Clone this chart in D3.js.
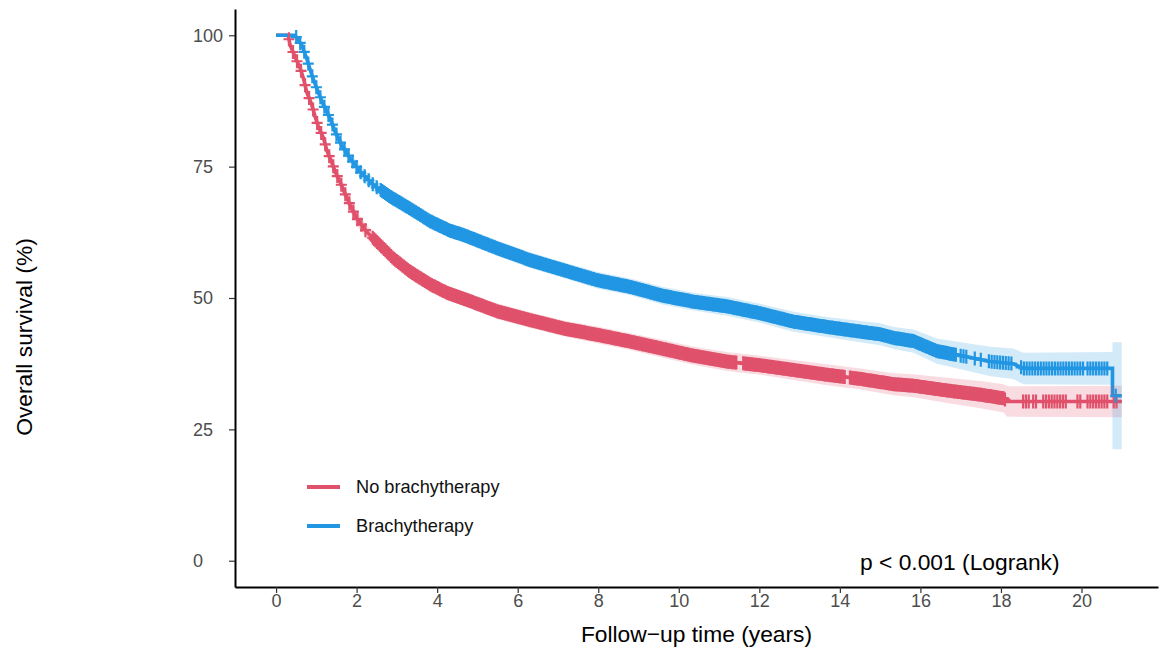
<!DOCTYPE html>
<html>
<head>
<meta charset="utf-8">
<script src="https://cdn.jsdelivr.net/npm/d3@7"></script>
<style>
  body { margin: 0; background: #fff; }
  svg { font-family: "Liberation Sans", Arial, sans-serif; display: block; }
</style>
</head>
<body>
<svg id="km"></svg>
<script>

// group labels and colours
var groupNames = ["No brachytherapy", "Brachytherapy"];
var groupColors = ["#E0516B", "#2196E3"];

// No brachytherapy: time (years), survival (%), CI half width (%)
var noBrachyTime = [0, 0.3, 0.35, 0.47, 0.6, 0.68, 0.76, 0.89, 0.97, 1.05, 1.18, 1.26, 1.38, 1.47, 1.59, 1.71, 1.84, 2.0, 2.25, 2.58, 2.92, 3.33, 3.83, 4.24, 4.65, 5.48, 6.31, 7.14, 7.97, 8.8, 9.62, 10.37, 11.2, 12.02, 12.85, 13.68, 14.51, 15.34, 15.83, 16.66, 17.49, 18.07, 18.15, 21.0];
var noBrachySurv = [100, 100, 98.1, 95.9, 93.7, 91.8, 89.2, 86.7, 84.5, 82.6, 80.4, 78.1, 75.9, 74.0, 72.1, 69.9, 67.7, 65.2, 62.6, 60.1, 57.5, 55.0, 52.6, 51.0, 49.9, 47.5, 45.8, 44.2, 43.0, 41.7, 40.3, 39.0, 37.9, 37.2, 36.3, 35.4, 34.6, 33.6, 33.3, 32.4, 31.6, 30.9, 30.3, 30.3];
var noBrachyCi = [0, 0, 0.6, 0.8, 0.9, 1.0, 1.0, 1.1, 1.1, 1.1, 1.1, 1.2, 1.2, 1.2, 1.2, 1.2, 1.3, 1.3, 1.3, 1.3, 1.3, 1.4, 1.4, 1.4, 1.4, 1.5, 1.5, 1.5, 1.6, 1.6, 1.7, 1.7, 1.8, 1.8, 1.9, 2.0, 2.0, 2.1, 2.2, 2.4, 2.6, 2.7, 2.9, 3.0];

// Brachytherapy
var brachyTime = [0, 0.47, 0.64, 0.76, 0.89, 1.01, 1.18, 1.34, 1.47, 1.63, 1.84, 2.09, 2.42, 2.83, 3.33, 3.83, 4.32, 4.65, 5.48, 6.31, 7.14, 7.97, 8.8, 9.62, 10.37, 11.2, 12.02, 12.85, 13.68, 14.51, 15.0, 15.34, 15.83, 16.41, 17.08, 17.74, 18.3, 18.56, 20.77, 20.77, 21.0];
var brachySurv = [100, 100, 98.1, 95.6, 92.4, 89.9, 86.7, 84.2, 81.6, 79.1, 76.6, 74.0, 71.5, 69.3, 67.0, 64.6, 62.8, 62.0, 59.5, 57.2, 55.3, 53.4, 52.1, 50.4, 49.3, 48.4, 47.1, 45.5, 44.5, 43.6, 43.1, 42.4, 41.8, 39.9, 38.9, 37.9, 37.5, 36.6, 36.6, 31.4, 31.4];
var brachyCi = [0, 0, 0.5, 0.7, 0.8, 0.9, 1.0, 1.0, 1.1, 1.1, 1.1, 1.2, 1.2, 1.3, 1.3, 1.4, 1.4, 1.4, 1.5, 1.5, 1.5, 1.6, 1.6, 1.7, 1.7, 1.8, 1.8, 1.9, 1.9, 2.0, 2.1, 2.1, 2.2, 2.4, 2.6, 2.8, 2.9, 3.0, 3.1, 10.2, 10.2];

// censoring marks: [from, to, spacing] in years (too dense to count one by one)
var noBrachyCensor = [[0.32, 2.3, 0.1], [2.4, 11.45, 0.035], [11.6, 14.15, 0.035], [14.25, 18.1, 0.035],
  [18.55, 18.7, 0.07], [18.8, 18.9, 0.07], [19.05, 19.65, 0.07], [19.9, 20.0, 0.07], [20.15, 20.7, 0.07], [20.8, 20.9, 0.07]];
var brachyCensor = [[0.5, 2.5, 0.1], [2.6, 16.9, 0.035], [17.0, 17.2, 0.07], [17.35, 17.35, 1], [17.5, 17.5, 1],
  [17.7, 18.3, 0.07], [18.5, 20.05, 0.07], [20.15, 20.7, 0.07], [20.85, 20.85, 1]];

var yTicks = [0, 25, 50, 75, 100];
var xTicks = [0, 2, 4, 6, 8, 10, 12, 14, 16, 18, 20];

var config = {
  w: 1160,
  h: 654,
  left: 235,
  right: 1158,
  top: 9,
  bottom: 587
};

var x = d3.scaleLinear().domain([-1.02, 21.9]).range([config.left, config.right]);
var y = d3.scaleLinear().domain([-5, 105]).range([config.bottom, config.top]);

var groups = [
  { time: noBrachyTime, surv: noBrachySurv, ci: noBrachyCi, censor: noBrachyCensor },
  { time: brachyTime, surv: brachySurv, ci: brachyCi, censor: brachyCensor }
];

var svg = d3.select("#km")
  .attr("width", config.w)
  .attr("height", config.h);

function toPoints(g) {
  return g.time.map(function(t, i) {
    return { t: t, s: g.surv[i], c: g.ci[i] };
  });
}

var line = d3.line()
  .x(function(d) { return x(d.t); })
  .y(function(d) { return y(d.s); });

var band = d3.area()
  .x(function(d) { return x(d.t); })
  .y0(function(d) { return y(d.s - d.c); })
  .y1(function(d) { return y(d.s + d.c); });

var plot = svg.append("g").attr("class", "plot");

// curves then ribbons then censor marks
groups.forEach(function(g, i) {
  plot.append("path")
    .datum(toPoints(g))
    .attr("d", line)
    .attr("fill", "none")
    .attr("stroke", groupColors[i])
    .attr("stroke-width", 3.6);
});

groups.forEach(function(g, i) {
  plot.append("path")
    .datum(toPoints(g))
    .attr("d", band)
    .attr("fill", groupColors[i])
    .attr("fill-opacity", 0.2)
    .attr("stroke", "none");
});

groups.forEach(function(g, i) {
  var survAt = d3.scaleLinear().domain(g.time).range(g.surv);
  var marks = [];
  g.censor.forEach(function(r) {
    d3.range(r[0], r[1] + 1e-9, r[2]).forEach(function(t) { marks.push(t); });
  });
  plot.append("g")
    .selectAll("path")
    .data(marks)
    .enter()
    .append("path")
      .attr("d", function(t) {
        var cx = x(t), cy = y(survAt(t));
        return "M" + (cx - 5.5) + "," + cy + "H" + (cx + 5.5) +
               "M" + cx + "," + (cy - 7) + "V" + (cy + 7);
      })
      .attr("stroke", groupColors[i])
      .attr("stroke-width", 2.2)
      .attr("fill", "none");
});

// axes
var yAxis = svg.append("g")
  .attr("transform", "translate(" + config.left + ",0)")
  .call(d3.axisLeft(y).tickValues(yTicks).tickSize(6).tickSizeOuter(0));

var xAxis = svg.append("g")
  .attr("transform", "translate(0," + config.bottom + ")")
  .call(d3.axisBottom(x).tickValues(xTicks).tickSize(6).tickSizeOuter(0).tickPadding(1.5));

[xAxis, yAxis].forEach(function(a) {
  a.select(".domain").attr("stroke", "#000").attr("stroke-width", 2);
  a.selectAll(".tick line").attr("stroke", "#333").attr("stroke-width", 1.2);
  a.selectAll(".tick text")
    .attr("fill", "#4D4D4D")
    .style("font-size", "18px")
    .style("font-family", "'Liberation Sans', Arial, sans-serif");
});

// y tick labels sit left-aligned in this chart
yAxis.selectAll(".tick text")
  .attr("text-anchor", "start")
  .attr("x", 193 - config.left);

// axis titles
svg.append("text")
  .attr("x", (config.left + config.right) / 2)
  .attr("y", 642)
  .attr("text-anchor", "middle")
  .attr("fill", "#000")
  .style("font-size", "22.8px")
  .text("Follow\u2212up time (years)");

svg.append("text")
  .attr("transform", "translate(32,337) rotate(-90)")
  .attr("text-anchor", "middle")
  .attr("fill", "#000")
  .style("font-size", "22.8px")
  .text("Overall survival (%)");

// legend
var legend = svg.append("g").attr("class", "legend");
groupNames.forEach(function(name, i) {
  var ly = 487 + i * 39;
  legend.append("line")
    .attr("x1", 307).attr("x2", 340)
    .attr("y1", ly).attr("y2", ly)
    .attr("stroke", groupColors[i])
    .attr("stroke-width", 4);
  legend.append("text")
    .attr("x", 356)
    .attr("y", ly)
    .attr("dy", "0.35em")
    .attr("fill", "#111")
    .style("font-size", "18.2px")
    .text(name);
});

// p-value
svg.append("text")
  .attr("x", 860)
  .attr("y", 569.5)
  .attr("fill", "#000")
  .style("font-size", "22.8px")
  .text("p < 0.001 (Logrank)");

</script>
</body>
</html>
